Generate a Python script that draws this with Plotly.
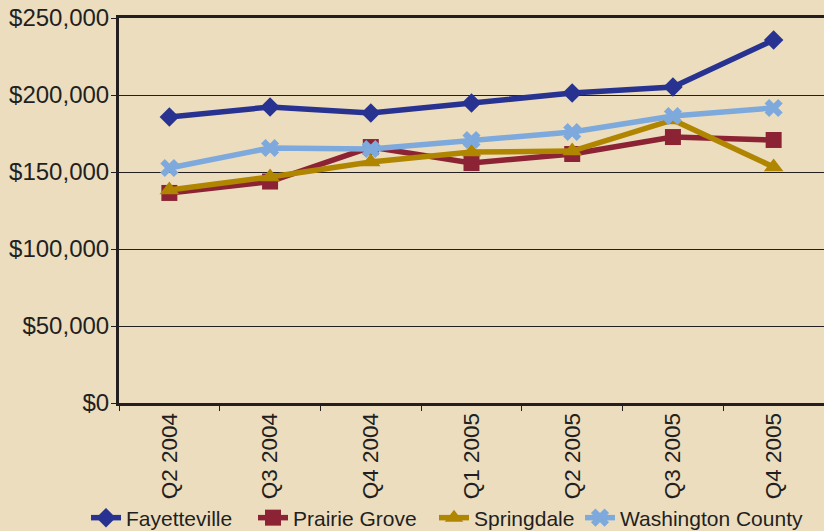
import plotly.graph_objects as go

quarters = ["Q2 2004", "Q3 2004", "Q4 2004", "Q1 2005", "Q2 2005", "Q3 2005", "Q4 2005"]

fayetteville = [185700, 192200, 188300, 194800, 201300, 205200, 235700]
prairie_grove = [136400, 143800, 166200, 155800, 161700, 172700, 170800]
springdale = [138300, 146800, 156500, 163000, 163600, 183800, 153200]
washington_county = [152600, 165600, 164900, 170800, 176000, 186400, 191600]

series = [
    ("Fayetteville", fayetteville, "#283391", "diamond", 15),
    ("Prairie Grove", prairie_grove, "#8C2334", "square", 16),
    ("Springdale", springdale, "#B08500", "triangle-up", 17),
    ("Washington County", washington_county, "#7EA9DC", "x", 16),
]

# each series gets its own legend box so the entries can be spaced freely
legend_ids = ["legend", "legend2", "legend3", "legend4"]
legend_x = [86, 253, 434, 580]

bg = "#ECDDBF"
ink = "#231F20"

fig = go.Figure()
for (name, vals, color, symbol, size), lid in zip(series, legend_ids):
    fig.add_trace(go.Scatter(
        x=quarters, y=vals, name=name, mode="lines+markers",
        line=dict(color=color, width=5.5),
        marker=dict(symbol=symbol, size=size, color=color),
        legend=lid,
    ))

legend_style = {}
for lid, lx in zip(legend_ids, legend_x):
    legend_style[lid] = dict(
        orientation="h", xref="container", yref="container",
        x=lx / 824, xanchor="left", y=1 - 518 / 531, yanchor="middle",
        font=dict(size=21, color=ink), bgcolor="rgba(0,0,0,0)",
        itemwidth=30,
    )

fig.update_layout(
    width=824, height=531,
    margin=dict(l=119, r=0, t=18, b=128),
    paper_bgcolor=bg, plot_bgcolor=bg,
    font=dict(family="Liberation Sans, Arial, sans-serif", color=ink),
    showlegend=True,
    **legend_style,
)

fig.update_xaxes(
    type="category", range=[-0.5, 6.5], automargin=False,
    showline=True, linecolor=ink, linewidth=3, mirror=True,
    ticks="outside", tickson="boundaries", ticklen=5, tickcolor=ink, tickwidth=1,
    tickangle=-90, tickfont=dict(size=22.5, color=ink), ticklabelstandoff=-2,
    showgrid=False,
)
fig.update_yaxes(
    range=[0, 250000], dtick=50000, automargin=False,
    tickprefix="$", tickformat=",",
    showline=True, linecolor=ink, linewidth=3,
    ticks="outside", ticklen=5, tickcolor=ink, tickwidth=1,
    tickfont=dict(size=24, color=ink), ticklabelstandoff=-3,
    showgrid=True, gridcolor=ink, gridwidth=1,
    zeroline=False,
)

fig.write_html("out.html")
